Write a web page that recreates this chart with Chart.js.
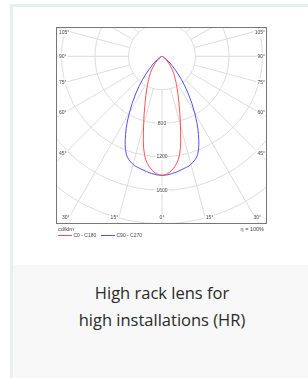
<!DOCTYPE html>
<html><head><meta charset="utf-8">
<script src="https://cdn.jsdelivr.net/npm/chart.js@4.4.1/dist/chart.umd.min.js"></script>
<style>
html,body{margin:0;padding:0;background:#fff;width:308px;height:378px;overflow:hidden;}
#card{position:absolute;left:10px;top:4px;width:303px;height:400px;border-left:3px solid #e7eff0;border-top:3px solid #e7eff0;box-sizing:border-box;background:#fff;}
#cap{position:absolute;left:13px;top:265px;width:298px;height:113px;background:#f8f8f8;font-family:'Open Sans',sans-serif;font-weight:400;font-size:16.5px;line-height:27px;color:#2a2a2a;text-align:center;padding-top:14px;box-sizing:border-box;}
#wrap{position:absolute;left:0;top:0;width:308px;height:250px;}
</style></head>
<body>
<div id="card"></div>
<div id="cap">High rack lens for<br>high installations (HR)</div>
<div id="wrap"><canvas id="c" width="308" height="250"></canvas></div>
<script>
// ---- data (angle from nadir in degrees, luminous intensity in cd/klm) ----
const ANGLES    = [0, 5, 10, 15, 20, 25, 30, 35, 40, 45, 50, 55, 60, 65, 70, 75, 80, 85, 90];
const C0_C180   = [1420, 1365, 1200, 850, 590, 430, 320, 240, 170, 110, 65, 35, 15, 6, 2, 0, 0, 0, 0];
const C90_C270  = [1421, 1405, 1372, 1335, 1245, 1030, 780, 550, 360, 210, 125, 70, 35, 15, 6, 2, 0, 0, 0];
const SERIES_NAMES  = ['C0 - C180', 'C90 - C270'];
const SERIES_COLORS = ['rgb(255,80,80)', 'rgb(80,80,255)'];
const RING_VALUES  = [400, 800, 1200, 1600, 2000, 2400];
const RING_LABELS  = [800, 1200, 1600];
const ANGLE_TICKS  = [0, 15, 30, 45, 60, 75, 90, 105];
const SPOKE_STEP   = 15;
const X_RANGE = [-1266, 1254];
const Y_RANGE = [-350, 1990];
const UNIT_LABEL = 'cd/klm';
const EFF_LABEL  = 'η = 100%';

function polarPoints(vals){
  const pts = [];
  for (let i = ANGLES.length - 1; i >= 0; i--) {
    const g = ANGLES[i] * Math.PI / 180;
    pts.push({x: -vals[i] * Math.sin(g), y: vals[i] * Math.cos(g)});
  }
  for (let i = 1; i < ANGLES.length; i++) {
    const g = ANGLES[i] * Math.PI / 180;
    pts.push({x: vals[i] * Math.sin(g), y: vals[i] * Math.cos(g)});
  }
  return pts;
}

const FONT = '5px "Liberation Sans", Arial, sans-serif';
const TXT = '#444';

function labelBox(ctx, text, x, y, align){
  const w = ctx.measureText(text).width;
  let lx = align === 'left' ? x : align === 'right' ? x - w : x - w / 2;
  ctx.fillStyle = '#fff';
  ctx.fillRect(lx - 1, y - 3.5, w + 2, 7);
  ctx.fillStyle = TXT;
  ctx.textAlign = 'left';
  ctx.textBaseline = 'middle';
  ctx.fillText(text, lx, y);
}

const polarGrid = {
  id: 'polarGrid',
  beforeDatasetsDraw(chart){
    const {ctx, chartArea: ca, scales: {x, y}} = chart;
    const cx = x.getPixelForValue(0), cy = y.getPixelForValue(0);
    const k = x.getPixelForValue(1000) - cx;
    const r = v => v * k / 1000;
    ctx.save();
    ctx.beginPath(); ctx.rect(ca.left, ca.top, ca.right - ca.left, ca.bottom - ca.top); ctx.clip();
    ctx.strokeStyle = '#dcdcdc'; ctx.lineWidth = 1;
    RING_VALUES.forEach(v => { ctx.beginPath(); ctx.arc(cx, cy, r(v), 0, Math.PI * 2); ctx.stroke(); });
    const r0 = r(RING_VALUES[0]), r1 = r(4000);
    for (let a = 0; a < 360; a += SPOKE_STEP) {
      const g = a * Math.PI / 180;
      const dx = Math.sin(g), dy = Math.cos(g);
      ctx.beginPath(); ctx.moveTo(cx + dx * r0, cy + dy * r0); ctx.lineTo(cx + dx * r1, cy + dy * r1); ctx.stroke();
    }
    ctx.font = FONT;
    RING_LABELS.forEach(v => labelBox(ctx, String(v), cx, cy + r(v), 'center'));
    const insetX = 97;
    ANGLE_TICKS.forEach(t => {
      const g = t * Math.PI / 180;
      const txt = t + '°';
      if (t >= 45) {
        let ly = cy + insetX * Math.tan(Math.PI / 2 - g);
        ly = Math.max(ly, ca.top + 6);
        labelBox(ctx, txt, ca.left + 3, ly, 'left');
        labelBox(ctx, txt, ca.right - 2, ly, 'right');
      } else {
        const ly = ca.bottom - 5;
        const off = (ca.bottom + 11 - cy) * Math.tan(g);
        const w = ctx.measureText(txt).width;
        [-1, 1].forEach(s => {
          if (t === 0 && s === 1) return;
          let lx = cx + s * off - w / 2;
          lx = Math.min(Math.max(lx, ca.left + 6), ca.right - 6 - w);
          labelBox(ctx, txt, lx, ly, 'left');
        });
      }
    });
    ctx.restore();
  },
  afterDraw(chart){
    const {ctx, chartArea: ca} = chart;
    ctx.save();
    ctx.strokeStyle = '#777'; ctx.lineWidth = 1;
    ctx.strokeRect(ca.left + 0.5, ca.top + 0.5, ca.right - ca.left - 1, ca.bottom - ca.top);
    ctx.font = '5.5px "Liberation Sans", Arial, sans-serif';
    ctx.fillStyle = TXT; ctx.textBaseline = 'middle';
    ctx.textAlign = 'left'; ctx.fillText(UNIT_LABEL, ca.left + 2, ca.bottom + 6);
    ctx.textAlign = 'right'; ctx.fillText(EFF_LABEL, ca.right - 3, ca.bottom + 6);
    ctx.font = FONT; ctx.textAlign = 'left';
    let lx = ca.left + 2;
    chart.data.datasets.forEach((ds, i) => {
      ctx.strokeStyle = SERIES_COLORS[i]; ctx.lineWidth = 1;
      ctx.beginPath(); ctx.moveTo(lx, ca.bottom + 12.5); ctx.lineTo(lx + 14, ca.bottom + 12.5); ctx.stroke();
      ctx.fillStyle = TXT;
      ctx.fillText(ds.label, lx + 15.5, ca.bottom + 13);
      lx += 43;
    });
    ctx.restore();
  }
};

new Chart(document.getElementById('c'), {
  type: 'scatter',
  data: {
    datasets: SERIES_NAMES.map((name, i) => ({
      label: name,
      data: polarPoints(i === 0 ? C0_C180 : C90_C270),
      showLine: true, borderColor: SERIES_COLORS[i], borderWidth: 1,
      pointRadius: 0, tension: 0.35, fill: false
    }))
  },
  options: {
    responsive: false, animation: false, devicePixelRatio: 1,
    layout: {padding: {left: 56, top: 27, right: 41, bottom: 27}},
    plugins: {legend: {display: false}, tooltip: {enabled: false}},
    scales: {
      x: {type: 'linear', display: false, min: X_RANGE[0], max: X_RANGE[1]},
      y: {type: 'linear', display: false, reverse: true, min: Y_RANGE[0], max: Y_RANGE[1]}
    }
  },
  plugins: [polarGrid]
});
</script>
</body></html>
